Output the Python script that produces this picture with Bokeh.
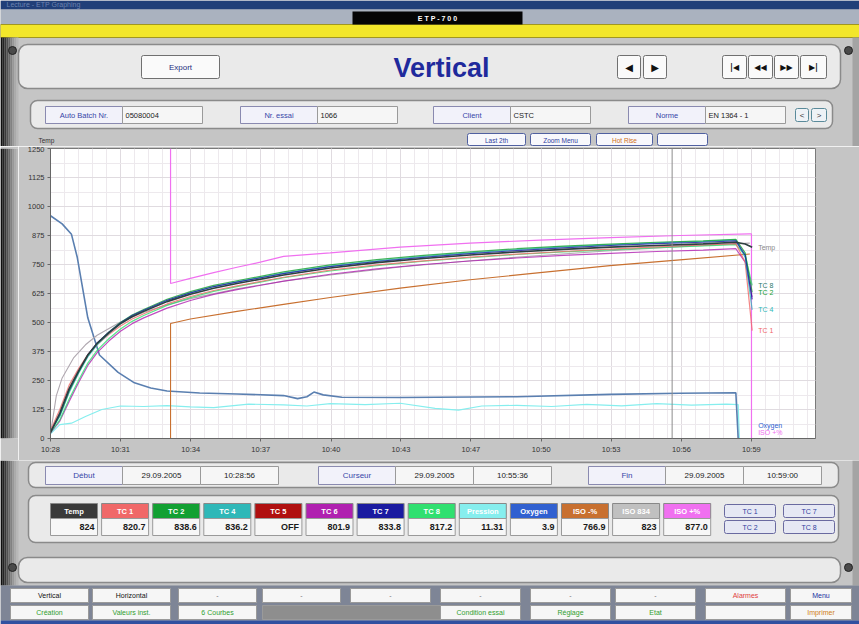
import numpy as np
from bokeh.plotting import figure
from bokeh.layouts import column, row
from bokeh.models import Range1d, FixedTicker, Span
from bokeh.core.properties import value
from bokeh.embed import file_html
from bokeh.resources import INLINE

# ------------------------------------------------------------------ data
tick_labels = ["10:28", "10:31", "10:34", "10:37", "10:40", "10:43",
               "10:47", "10:50", "10:53", "10:56", "10:59"]
tick_seconds = [0, 180, 361, 541, 722, 902, 1082, 1263, 1443, 1624, 1804]
cursor_seconds = 1600          # 10:55:36 since 10:28:56
x_end_seconds = 1969
y_ticks = [0, 125, 250, 375, 500, 625, 750, 875, 1000, 1125, 1250]

# thermocouples (minutes since start)
t_tc = [0, 0.4, 0.8, 1.2, 1.6, 2, 2.5, 3, 3.5, 4, 5, 6, 7, 8, 10, 12, 14, 16,
        18, 20, 22, 24, 26, 28, 29.4, 29.8, 30.1]
temp = [26, 110, 215, 290, 360, 410, 455, 495, 525, 548, 590, 622, 648, 668, 705,
        735, 758, 776, 791, 804, 815, 825, 832, 839, 846, 838, 824]
tc1 = [35, 125, 230, 300, 362, 405, 448, 485, 515, 538, 580, 612, 638, 658, 695,
       726, 748, 766, 782, 795, 806, 816, 826, 834, 840, 760, 465]
tc2 = [28, 100, 205, 285, 358, 410, 458, 500, 532, 556, 600, 633, 660, 680, 718,
       748, 771, 789, 804, 818, 829, 838, 846, 852, 858, 800, 630]
tc4 = [30, 95, 198, 280, 352, 404, 452, 494, 526, 550, 594, 627, 654, 675, 713,
       743, 766, 785, 800, 814, 826, 835, 843, 850, 856, 780, 555]
tc6 = [24, 75, 160, 240, 315, 370, 420, 462, 495, 520, 562, 595, 621, 642, 678,
       708, 731, 750, 765, 778, 789, 798, 806, 812, 818, 760, 610]
tc7 = [27, 105, 210, 288, 360, 412, 458, 498, 530, 553, 596, 628, 655, 674, 711,
       741, 763, 781, 797, 810, 822, 832, 840, 846, 852, 790, 600]
tc8 = [25, 80, 170, 250, 325, 380, 430, 472, 505, 530, 574, 607, 634, 655, 693,
       722, 745, 764, 779, 793, 804, 813, 823, 830, 836, 790, 660]

t_iso = [0, 0.25, 0.5, 1, 1.5, 2, 3, 4, 5, 6, 8, 10, 12, 15, 18, 21, 24, 27, 30]
iso834 = [20, 185, 261, 349, 404, 445, 502, 544, 576, 603, 645, 678, 705, 739,
          766, 789, 809, 827, 842]

t_up = [5.15, 5.15, 6, 7, 8, 9, 10, 12, 15, 18, 21, 24, 27, 30, 30.07, 30.07]
iso_up = [1250, 668, 690, 715, 738, 760, 785, 800, 825, 842, 855, 866, 875, 882, 882, 0]

t_lo = [5.15, 5.15, 6, 8, 10, 12, 15, 18, 21, 24, 27, 30]
iso_lo = [0, 496, 515, 548, 578, 608, 648, 684, 715, 745, 770, 795]

t_o2 = [0, 0.5, 0.9, 1.15, 1.6, 2.1, 2.9, 3.6, 4.3, 5, 6.4, 8, 10, 10.6, 11.0,
        11.3, 11.7, 12.5, 15, 20, 24, 27, 29.4, 29.5]
oxygen = [960, 925, 880, 780, 520, 360, 285, 240, 218, 205, 196, 192, 185, 172,
          180, 200, 188, 178, 177, 180, 190, 195, 197, 0]

t_p = [0, 0.4, 0.9, 1.5, 2.2, 3, 4, 5, 6, 7, 8.5, 10, 11, 12, 13.5, 15, 16.5,
       17.5, 18.5, 20, 21.5, 23, 24.5, 26, 27.5, 29, 29.5, 29.55]
pression = [20, 60, 66, 95, 125, 140, 138, 142, 136, 133, 148, 145, 140, 150, 146,
            152, 130, 122, 140, 143, 138, 147, 141, 150, 144, 148, 146, 0]

legend_names = ["Temp", "TC 1", "TC 2", "TC 4", "TC 5", "TC 6", "TC 7", "TC 8",
                "Pression", "Oxygen", "ISO -%", "ISO 834", "ISO +%"]
legend_values = ["824", "820.7", "838.6", "836.2", "OFF", "801.9", "833.8",
                 "817.2", "11.31", "3.9", "766.9", "823", "877.0"]
legend_colors = ["#3a3a3a", "#f06868", "#12a032", "#2fb8b8", "#b01010", "#b020b0",
                 "#1a1aa0", "#30e070", "#86eeee", "#3060d0", "#c87030", "#c0c0c0",
                 "#f070f0"]

info_labels = ["Auto Batch Nr.", "Nr. essai", "Client", "Norme"]
info_values = ["05080004", "1066", "CSTC", "EN 1364 - 1"]
time_labels = ["Début", "Curseur", "Fin"]
time_dates = ["29.09.2005", "29.09.2005", "29.09.2005"]
time_values = ["10:28:56", "10:55:36", "10:59:00"]

# ------------------------------------------------------------------ style
FONT = value("Liberation Sans")
BG = "#c5c5c5"
PANEL = "#eaeaea"
PLINE = "#8a8a8a"
W = 859


def chrome_fig(y0, y1):
    p = figure(width=W, height=y1 - y0, x_range=Range1d(0, W),
               y_range=Range1d(y1, y0), output_backend="svg",
               toolbar_location=None, min_border=0,
               x_axis_type=None, y_axis_type=None)
    p.outline_line_color = None
    p.background_fill_color = BG
    p.border_fill_color = BG
    return p


def box(p, l, r, t, b, fill, line=PLINE, radius=0, lw=1.0):
    p.quad(left=[l], right=[r], top=[t], bottom=[b], fill_color=fill,
           line_color=line, line_width=lw, border_radius=radius)


def txt(p, x, y, s, size=8, color="#222222", align="center", style="normal",
        font=FONT, alpha=1.0):
    p.text(x=[x], y=[y], text=[s], text_font=font,
           text_font_size=f"{size}px", text_color=color, text_align=align,
           text_baseline="middle", text_font_style=style, text_alpha=alpha)


SHADES = ["#101010", "#242424", "#3a3a3a", "#525252", "#6a6a6a", "#828282",
          "#989898", "#aaaaaa", "#b8b8b8"]


def vignette(p, y0, y1):
    for i, c in enumerate(SHADES):
        p.quad(left=[2 * i], right=[2 * i + 2], top=[y0], bottom=[y1],
               fill_color=c, line_color=None)
    p.quad(left=[852], right=[W], top=[y0], bottom=[y1], fill_color="#a4a4a4",
           line_color=None)


# ------------------------------------------------------------------ header
h = chrome_fig(0, 146)
h.quad(left=[0], right=[W], top=[0], bottom=[9], fill_color="#213f78", line_color=None)
txt(h, 6, 4, "Lecture - ETP Graphing", size=7, color="#8fa2c8", align="left", alpha=0.7)
h.quad(left=[0], right=[W], top=[9], bottom=[24], fill_color="#aab2bf", line_color=None)
h.quad(left=[0], right=[W], top=[24], bottom=[37], fill_color="#f2e62a", line_color="#a09620")
box(h, 352, 522, 11, 24, "#050505", line=None)
txt(h, 437, 18, "E T P - 7 0 0", size=7, color="#ffffff", style="bold")
vignette(h, 37, 146)
for cx, cy in [(12, 50), (848, 50)]:
    h.circle(x=[cx], y=[cy], radius=4, fill_color="#4a4a4a", line_color="#222")

box(h, 18, 840, 44, 88, PANEL, radius=9, lw=1.5)
box(h, 141, 219, 55, 78, "#fafafa", line="#707070", radius=2)
txt(h, 180, 67, "Export", size=8, color="#1f2f7f")
txt(h, 441, 67, "Vertical", size=27, color="#1f2a9c", style="bold")
ARROW = value("DejaVu Sans")
for (l, r), s in zip([(617, 640), (643, 666)], ["◀", "▶"]):
    box(h, l, r, 55, 78, "#fafafa", line="#707070", radius=2)
    txt(h, (l + r) / 2, 67, s, size=10, color="#111", font=ARROW)
for (l, r), s in zip([(722, 746), (748, 772), (774, 798), (800, 826)],
                     ["|◀", "◀◀", "▶▶", "▶|"]):
    box(h, l, r, 55, 78, "#fafafa", line="#707070", radius=2)
    txt(h, (l + r) / 2, 67, s, size=8, color="#111", font=ARROW, style="bold")

box(h, 30, 832, 100, 128, PANEL, radius=7, lw=1.5)
for i, (lab, val) in enumerate(zip(info_labels, info_values)):
    l0 = [45, 240, 433, 628][i]
    box(h, l0, l0 + 77, 106, 123, "#f2f2fa", line="#8a8ab0")
    txt(h, l0 + 38.5, 115, lab, size=7.5, color="#3646a8")
    box(h, l0 + 77, l0 + 157, 106, 123, "#f6f6f6", line="#9a9a9a")
    txt(h, l0 + 80, 115, val, size=7.5, color="#222", align="left")
for (l, r), s in zip([(795, 808), (811, 826)], ["<", ">"]):
    box(h, l, r, 108, 121, "#eef2f6", line="#5a8a9a", radius=2)
    txt(h, (l + r) / 2, 115, s, size=8, color="#333")

txt(h, 38, 140, "Temp", size=6.5, color="#333", align="left")
for (l, r), s, c in zip([(467, 525), (530, 590), (596, 652), (657, 707)],
                        ["Last 2th", "Zoom Menu", "Hot Rise", ""],
                        ["#3040a0", "#3040a0", "#d07020", "#333"]):
    box(h, l, r, 133, 145, "#f8f8fc", line="#5060a0", radius=2)
    txt(h, (l + r) / 2, 139.5, s, size=6.5, color=c)

# ------------------------------------------------------------------ chart
strip = figure(width=18, height=314, x_range=Range1d(0, 18), y_range=Range1d(0, 1),
               output_backend="svg", toolbar_location=None, min_border=0,
               x_axis_type=None, y_axis_type=None)
strip.outline_line_color = None
strip.background_fill_color = BG
strip.border_fill_color = BG
for i, c in enumerate(SHADES):
    strip.quad(left=[2 * i], right=[2 * i + 2], top=[1], bottom=[0],
               fill_color=c, line_color=None)

cp = figure(width=W - 18, height=314, x_range=Range1d(0, x_end_seconds),
            y_range=Range1d(0, 1250), output_backend="svg", toolbar_location=None,
            min_border_left=32, min_border_right=44, min_border_top=2,
            min_border_bottom=22)
cp.background_fill_color = "#ffffff"
cp.border_fill_color = BG
cp.outline_line_color = "#7a7a7a"

minor_x = [round(i * tick_seconds[-1] / 50) for i in range(56)]
cp.xaxis.ticker = FixedTicker(ticks=tick_seconds, minor_ticks=minor_x)
cp.xaxis.major_label_overrides = {k: v for k, v in zip(tick_seconds, tick_labels)}
minor_y = [v / 2 for v in range(0, 2501, 125)]
cp.yaxis.ticker = FixedTicker(ticks=y_ticks, minor_ticks=minor_y)
for ax in (cp.xaxis, cp.yaxis):
    ax.axis_line_color = "#666666"
    ax.major_tick_line_color = "#666666"
    ax.major_tick_out = 3
    ax.major_tick_in = 0
    ax.minor_tick_out = 0
    ax.minor_tick_in = 0
    ax.major_label_text_font = "Liberation Sans"
    ax.major_label_text_font_size = "7.5px"
    ax.major_label_text_color = "#333333"
    ax.major_label_standoff = 3
cp.xgrid.grid_line_color = "#e0dbe0"
cp.ygrid.grid_line_color = "#e0dbe0"
cp.xgrid.minor_grid_line_color = "#ede9ed"
cp.ygrid.minor_grid_line_color = "#ede9ed"


def sec(t):
    return np.array(t) * 60.0


cp.add_layout(Span(location=cursor_seconds, dimension="height",
                   line_color="#8c8c8c", line_width=1))

cp.line(sec(t_p), pression, line_color=legend_colors[8], line_width=1.2)
cp.line(sec(t_o2), oxygen, line_color="#5a7fb0", line_width=1.6)
cp.line(sec(t_lo), iso_lo, line_color=legend_colors[10], line_width=1.1)
cp.line(sec(t_up), iso_up, line_color=legend_colors[12], line_width=1.2)
cp.line(sec(t_iso), iso834, line_color="#b0a8b0", line_width=1.1)
for vals, col in [(tc6, legend_colors[5]), (tc8, legend_colors[7]),
                  (tc1, legend_colors[1]), (tc4, legend_colors[3]),
                  (tc2, legend_colors[2]), (tc7, legend_colors[6])]:
    cp.line(sec(t_tc), vals, line_color=col, line_width=1.2, line_alpha=0.8)
cp.line(sec(t_tc), temp, line_color="#2e4040", line_width=1.6)

label_x = x_end_seconds * 0.925
end_labels = [("Temp", temp[-1], "#8a8a8a"), ("TC 8", tc8[-1], "#2a7a6a"),
              ("TC 2", tc2[-1], legend_colors[2]), ("TC 4", tc4[-1], legend_colors[3]),
              ("TC 1", tc1[-1], legend_colors[1]), ("Oxygen", 58, legend_colors[9]),
              ("ISO +%", 28, legend_colors[12])]
for s, yv, c in end_labels:
    cp.text(x=[label_x], y=[yv], text=[s], text_font=FONT, text_font_size="7px",
            text_color=c, text_baseline="middle", text_align="left")

# ------------------------------------------------------------------ footer
f = chrome_fig(460, 624)
vignette(f, 460, 585)
f.circle(x=[12, 848], y=[567, 567], radius=4, fill_color="#4a4a4a", line_color="#222")

box(f, 28, 838, 462, 487, PANEL, radius=7, lw=1.5)
for i, (lab, d, v) in enumerate(zip(time_labels, time_dates, time_values)):
    l0 = [45, 318, 588][i]
    box(f, l0, l0 + 77, 466, 484, "#f2f2fa", line="#8a8ab0")
    txt(f, l0 + 38.5, 475, lab, size=8, color="#3646a8")
    box(f, l0 + 77, l0 + 155, 466, 484, "#f6f6f6", line="#9a9a9a")
    txt(f, l0 + 116, 475, d, size=8, color="#222")
    box(f, l0 + 155, l0 + 233, 466, 484, "#f6f6f6", line="#9a9a9a")
    txt(f, l0 + 194, 475, v, size=8, color="#222")

box(f, 28, 838, 495, 542, PANEL, radius=7, lw=1.5)
for i, (n, v, c) in enumerate(zip(legend_names, legend_values, legend_colors)):
    l0 = 50 + i * 51.1
    box(f, l0, l0 + 47, 503, 518, c, line="#888888")
    txt(f, l0 + 23.5, 510.5, n, size=7.5, color="#ffffff", style="bold")
    box(f, l0, l0 + 47, 518, 535, "#f7f7f7", line="#9a9a9a")
    txt(f, l0 + 44, 526.5, v, size=9, color="#1a1a1a", align="right", style="bold")
for (l, r), (t, b), s in zip([(724, 775), (724, 775), (783, 834), (783, 834)],
                             [(504, 517), (520, 533), (504, 517), (520, 533)],
                             ["TC 1", "TC 2", "TC 7", "TC 8"]):
    box(f, l, r, t, b, "#e6e8f4", line="#6a6aa0", radius=2)
    txt(f, (l + r) / 2, (t + b) / 2, s, size=7, color="#3040a0")

box(f, 18, 840, 557, 582, PANEL, radius=9, lw=1.5)

f.quad(left=[0], right=[W], top=[585], bottom=[620], fill_color="#7e8596", line_color=None)
f.quad(left=[0], right=[W], top=[620], bottom=[624], fill_color="#3050a0", line_color=None)
row1 = [((10, 88), "Vertical", "#111"), ((92, 170), "Horizontal", "#111"),
        ((178, 256), "-", "#777"), ((262, 340), "-", "#777"),
        ((350, 430), "-", "#777"), ((440, 520), "-", "#777"),
        ((530, 610), "-", "#777"), ((615, 695), "-", "#777"),
        ((705, 785), "Alarmes", "#e04040"), ((790, 851), "Menu", "#2030a0")]
for (l, r), s, c in row1:
    box(f, l, r, 588, 602, "#f6f6f6", line="#9a9a9a")
    txt(f, (l + r) / 2, 595, s, size=7, color=c)
row2 = [((10, 88), "Création", "#30a030"), ((92, 170), "Valeurs inst.", "#30a030"),
        ((178, 256), "6 Courbes", "#30a030"), ((440, 520), "Condition essai", "#30a030"),
        ((530, 610), "Réglage", "#30a030"), ((615, 695), "Etat", "#30a030"),
        ((705, 785), "", "#333"), ((790, 851), "Imprimer", "#d08020")]
box(f, 262, 440, 605, 619, "#8e8e8e", line="#9a9a9a")
for (l, r), s, c in row2:
    box(f, l, r, 605, 619, "#f6f6f6", line="#9a9a9a")
    txt(f, (l + r) / 2, 612, s, size=7, color=c)

layout = column(h, row(strip, cp, spacing=0), f, spacing=0)
open("out.html", "w").write(file_html(layout, INLINE))
